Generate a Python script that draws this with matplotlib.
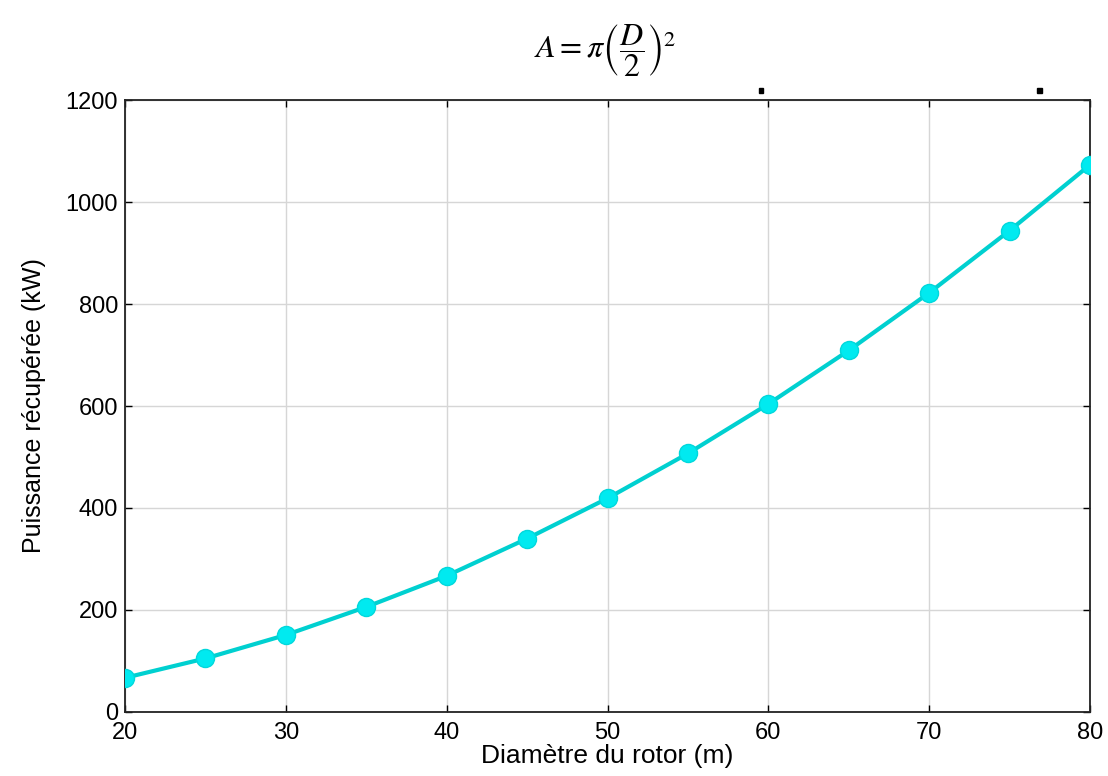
import numpy as np
import matplotlib.pyplot as plt
from matplotlib.patches import Rectangle

plt.rcParams['font.family'] = ['Liberation Sans', 'DejaVu Sans']
plt.rcParams['mathtext.fontset'] = 'stix'

# diametre du rotor (m) et puissance recuperee (kW)
diametre = [20, 25, 30, 35, 40, 45, 50, 55, 60, 65, 70, 75, 80]
puissance = [67, 105, 151, 206, 267, 340, 419, 507, 604, 709, 822, 944, 1073]

fig = plt.figure(figsize=(11.08, 7.76), dpi=100)
ax = fig.add_axes([0.1128, 0.0825, 0.8710, 0.7886])

ax.plot(diametre, puissance, color='#00d0d0', lw=3, marker='o', ms=13,
        mfc='#00eaf0', mec='#00d8dc', zorder=3)

ax.set_xlim(20, 80)
ax.set_ylim(0, 1200)
ax.set_xticks(np.arange(20, 81, 10))
ax.set_yticks(np.arange(0, 1201, 200))
ax.grid(True, color='#d6d6d6', lw=1)
ax.tick_params(direction='in', top=True, right=True, labelsize=17, length=5, width=1)
ax.tick_params(axis='x', pad=7)
ax.tick_params(axis='y', pad=5)
for s in ax.spines.values():
    s.set_linewidth(1.3)
    s.set_color('#222222')

ax.set_xlabel('Diamètre du rotor (m)', fontsize=19, labelpad=0)
ax.set_ylabel('Puissance récupérée (kW)', fontsize=18, labelpad=14)

fig.text(0.546, 0.935, r'$A = \pi\left(\dfrac{D}{2}\right)^2$', fontsize=23,
         ha='center', va='center')

# petits marques noirs au-dessus du cadre
for x in (0.685, 0.936):
    fig.add_artist(Rectangle((x, 0.880), 0.004, 0.006, transform=fig.transFigure,
                             color='black'))

fig.savefig('out.png', dpi=100)
